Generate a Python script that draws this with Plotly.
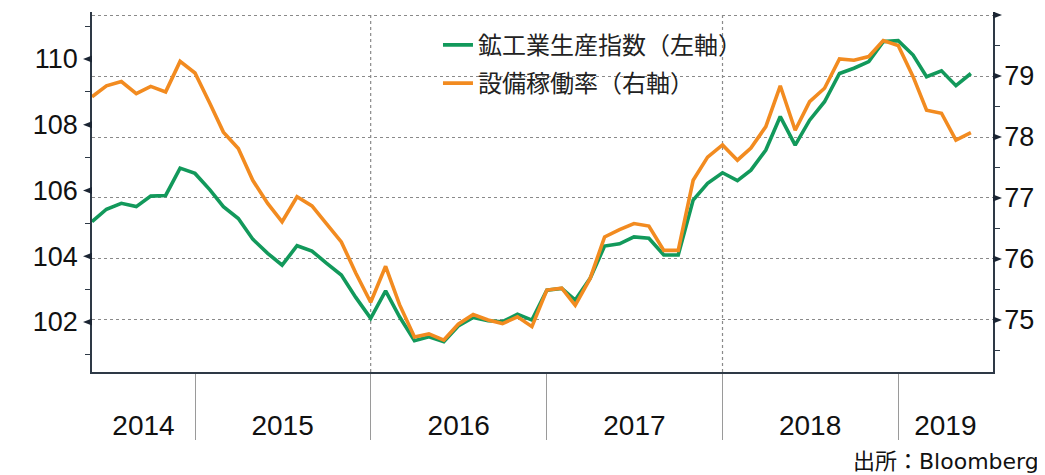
import plotly.graph_objects as go
import pandas as pd

# ---- data ----
months = pd.date_range("2014-06-01", "2019-06-01", freq="MS")

ip_index = [105.05, 105.43, 105.61, 105.51, 105.83, 105.85, 106.68, 106.52, 106.02, 105.51,
            105.15, 104.52, 104.09, 103.73, 104.32, 104.16, 103.79, 103.43, 102.75, 102.11,
            102.95, 102.16, 101.43, 101.55, 101.40, 101.88, 102.14, 102.04, 102.01, 102.24,
            102.06, 102.97, 103.02, 102.67, 103.33, 104.31, 104.38, 104.59, 104.55, 104.04,
            104.04, 105.71, 106.22, 106.54, 106.30, 106.62, 107.23, 108.25, 107.38, 108.14,
            108.70, 109.56, 109.72, 109.92, 110.53, 110.56, 110.12, 109.46, 109.64, 109.19,
            109.56]

util_rate = [78.66, 78.84, 78.91, 78.71, 78.83, 78.74, 79.24, 79.05, 78.55, 78.08,
             77.81, 77.29, 76.91, 76.61, 77.02, 76.87, 76.58, 76.28, 75.77, 75.29,
             75.88, 75.25, 74.72, 74.77, 74.67, 74.93, 75.09, 75.00, 74.94, 75.05,
             74.89, 75.49, 75.52, 75.24, 75.68, 76.36, 76.48, 76.58, 76.54, 76.14,
             76.14, 77.29, 77.67, 77.87, 77.62, 77.82, 78.17, 78.84, 78.11, 78.58,
             78.80, 79.28, 79.26, 79.32, 79.58, 79.50, 78.99, 78.44, 78.39, 77.95,
             78.07]

series_names = ["鉱工業生産指数（左軸）", "設備稼働率（右軸）"]

year_labels = ["2014", "2015", "2016", "2017", "2018", "2019"]
year_label_pos = ["2014-09-16", "2015-07-02", "2016-07-02", "2017-07-02", "2018-07-02", "2019-04-09"]
year_bounds = ["2015-01-01", "2016-01-01", "2017-01-01", "2018-01-01", "2019-01-01"]
vgrid_dates = ["2016-01-01", "2018-01-01"]

left_major = [102, 104, 106, 108, 110]
left_minor = [101, 103, 105, 107, 109, 111]
right_major = [75, 76, 77, 78, 79, 80]
right_text = ["75", "76", "77", "78", "79", ""]
right_minor = [74.5, 75.5, 76.5, 77.5, 78.5, 79.5]

x_range = ["2014-06-01", "2019-07-17"]
left_range = [100.48, 111.43]
right_range = [74.146, 80.05]

GREEN = "#12995B"
ORANGE = "#F28B20"
AXIS = "#2E3946"
TICKDARK = "#1B2533"

fig = go.Figure()
fig.add_trace(go.Scatter(x=months, y=ip_index, name=series_names[0], mode="lines",
                         line=dict(color=GREEN, width=3.6), yaxis="y", legendgroup="a"))
fig.add_trace(go.Scatter(x=months, y=util_rate, name=series_names[1], mode="lines",
                         line=dict(color=ORANGE, width=3.6), yaxis="y2", legendgroup="b"))

shapes = []
for d in vgrid_dates:
    shapes.append(dict(type="line", xref="x", yref="paper", x0=d, x1=d, y0=0, y1=1,
                       line=dict(color="#8a8a8a", width=1.2, dash="dot"), layer="below"))
for v in left_major:
    shapes.append(dict(type="path", xref="paper", yref="y", xsizemode="pixel", ysizemode="pixel",
                       xanchor=0, yanchor=v, path="M 0,-3.5 L -9,0 L 0,3.5 Z",
                       fillcolor=TICKDARK, line=dict(width=0)))
for v in right_major:
    shapes.append(dict(type="path", xref="paper", yref="y2", xsizemode="pixel", ysizemode="pixel",
                       xanchor=1, yanchor=v, path="M 0,-3.5 L 9,0 L 0,3.5 Z",
                       fillcolor=TICKDARK, line=dict(width=0)))

fig.update_layout(
    width=1037, height=467,
    margin=dict(l=84, r=52, t=4, b=103, autoexpand=False),
    paper_bgcolor="white", plot_bgcolor="white",
    font=dict(family="Liberation Sans, Noto Sans CJK JP", color="#111111"),
    showlegend=True,
    legend=dict(x=0.384, y=0.97, xanchor="left", yanchor="top",
                bgcolor="rgba(0,0,0,0)", tracegroupgap=4,
                font=dict(family="Noto Sans CJK JP", size=24, color="#222222")),
    xaxis=dict(type="date", range=x_range, showgrid=False, zeroline=False,
               showline=True, linecolor=AXIS, linewidth=1.5,
               tickmode="array", tickvals=year_label_pos, ticktext=year_labels,
               ticks="", ticklabelstandoff=28,
               tickfont=dict(size=28, family="Liberation Sans"),
               minor=dict(tickmode="array", tickvals=year_bounds, ticks="outside",
                          ticklen=66, tickcolor="#9a9a9a", tickwidth=1.2, showgrid=False)),
    yaxis=dict(range=left_range, showgrid=False, zeroline=False,
               showline=True, linecolor=AXIS, linewidth=1.5,
               tickmode="array", tickvals=left_major, ticks="", ticklabelstandoff=7,
               tickfont=dict(size=27, family="Liberation Sans"),
               minor=dict(tickmode="array", tickvals=left_minor, ticks="outside",
                          ticklen=5, tickcolor=AXIS, tickwidth=1.3, showgrid=False)),
    yaxis2=dict(range=right_range, overlaying="y", side="right", zeroline=False,
                showgrid=True, gridcolor="#8a8a8a", gridwidth=1.2, griddash="dot",
                showline=True, linecolor=AXIS, linewidth=1.5,
                tickmode="array", tickvals=right_major, ticktext=right_text,
                ticks="", ticklabelstandoff=4,
                tickfont=dict(size=27, family="Liberation Sans"),
                minor=dict(tickmode="array", tickvals=right_minor, ticks="outside",
                           ticklen=5, tickcolor=AXIS, tickwidth=1.3, showgrid=False)),
    shapes=shapes,
    annotations=[dict(text="出所：Bloomberg", xref="paper", yref="paper",
                      x=1.053, y=-0.209, xanchor="right", yanchor="top", showarrow=False,
                      font=dict(family="DejaVu Sans, Noto Sans CJK JP", size=22, color="#111111"))],
)

fig.write_html("out.html")
